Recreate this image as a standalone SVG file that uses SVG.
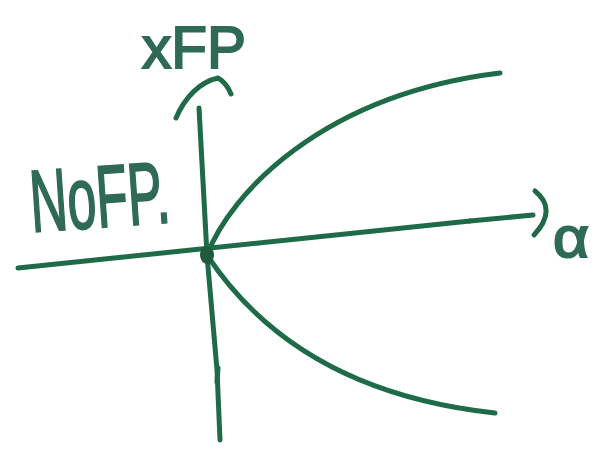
<svg xmlns="http://www.w3.org/2000/svg" width="613" height="461" viewBox="0 0 613 461">
<style>
.ln{fill:none;stroke:#1f6a48;stroke-width:5;stroke-linecap:round;stroke-linejoin:round}
.tx{fill:#2f6a55;stroke:#2f6a55;stroke-width:2;font-family:"Liberation Sans",sans-serif;font-weight:normal}
</style>
<rect width="613" height="461" fill="#fff"/>
<g id="connectors">
<path class="ln" d="M18,268 L470,221"/>
<path class="ln" d="M470,221 L533,215" stroke-width="8"/>
<path class="ln" d="M535,191 C550,203 550,218 534,235" stroke-width="6"/>
<path class="ln" d="M220,440 L217,370 M217,370 L207,255 L199,108" />
<path class="ln" d="M218,368 L217,382" stroke-width="7"/>
<path class="ln" d="M176,118 C185,97 200,82 218,78 C224,81 228,87 231,94"/>
<path class="ln" d="M207,255 C230,195 320,95 500,73"/>
<path class="ln" d="M207,255 C250,320 330,395 495,413"/>
</g>
<g id="origin"><ellipse cx="207" cy="255" rx="7" ry="9" fill="#1f5a3e"/></g>
<g id="label-xfp"><text class="tx" x="142" y="68" font-size="60" textLength="104" lengthAdjust="spacingAndGlyphs">xFP</text></g>
<g id="label-nofp"><text class="tx" x="32" y="232" font-size="88" textLength="140" lengthAdjust="spacingAndGlyphs" transform="rotate(-4 32 232)">NoFP.</text></g>
<g id="label-alpha"><text class="tx" x="553" y="257" font-size="58" textLength="36" lengthAdjust="spacingAndGlyphs">α</text></g>
</svg>
